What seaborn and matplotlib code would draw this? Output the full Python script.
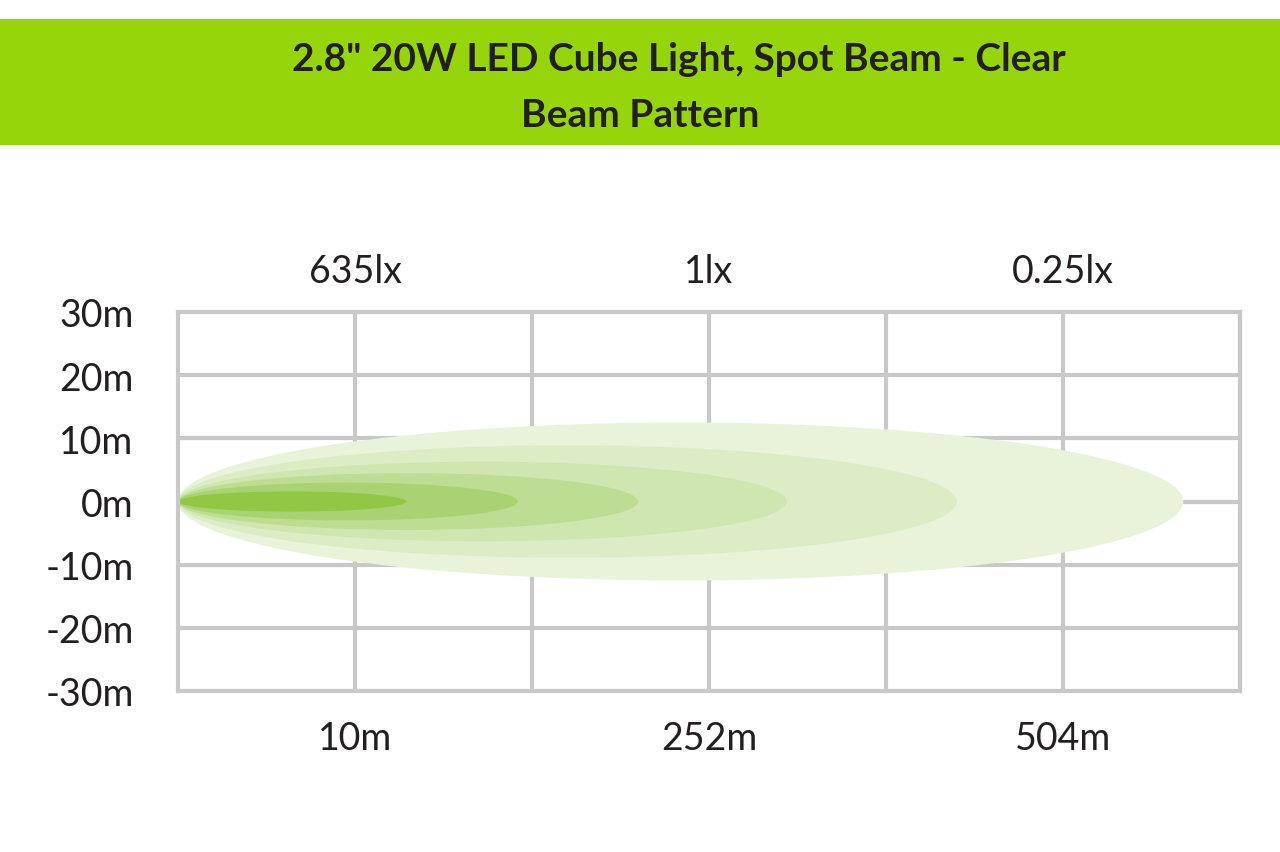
import matplotlib
matplotlib.use("Agg")
import matplotlib.pyplot as plt
from matplotlib.patches import Ellipse, Rectangle
import seaborn as sns

title_lines = ['2.8" 20W LED Cube Light, Spot Beam - Clear', "Beam Pattern"]
y_ticks = [-30, -20, -10, 0, 10, 20, 30]
y_labels = ["-30m", "-20m", "-10m", "0m", "10m", "20m", "30m"]
x_label_pos = [1, 3, 5]
bottom_labels = ["10m", "252m", "504m"]
top_labels = ["635lx", "1lx", "0.25lx"]
# beam contours: reach (grid units) and half-width (m)
beam_length = [5.68, 4.4, 3.44, 2.6, 1.92, 1.29]
beam_halfwidth = [12.5, 8.9, 6.3, 4.5, 3.0, 1.6]
beam_colors = ["#e8f3d9", "#dcedc6", "#cfe6b0", "#bddd93", "#a9d372", "#92c645"]

sns.set_theme(style="white", font="Lato")
fig = plt.figure(figsize=(12.8, 8.53), dpi=100)
W, H = 1280, 853
# title band
band = fig.add_axes([0, 1 - 146 / H, 1, 126 / H])
band.set_axis_off()
band.add_patch(Rectangle((0, 0), 1, 1, color="#96d50a", transform=band.transAxes))
band.text(0.53, 0.69, title_lines[0], ha="center", va="center", fontsize=28,
          fontweight="bold", color="#231f20", transform=band.transAxes)
band.text(0.5, 0.24, title_lines[1], ha="center", va="center", fontsize=28,
          fontweight="bold", color="#231f20", transform=band.transAxes)

ax = fig.add_axes([178 / W, 1 - 692 / H, (1240 - 178) / W, (692 - 313) / H])
ax.set_xlim(0, 6)
ax.set_ylim(-30, 30)
for L, hw, c in zip(beam_length, beam_halfwidth, beam_colors):
    ax.add_patch(Ellipse((L / 2, 0), L, 2 * hw, color=c, lw=0, zorder=2))
grid_c = "#c8c8c8"
for x in range(1, 6):
    ax.axvline(x, color=grid_c, lw=3, zorder=1)
for y in y_ticks[1:-1]:
    ax.axhline(y, color=grid_c, lw=3, zorder=1)
for s in ax.spines.values():
    s.set_color(grid_c)
    s.set_linewidth(3)
ax.set_xticks([])
ax.set_yticks(y_ticks)
ax.set_yticklabels(y_labels, fontsize=27, color="#231f20")
ax.tick_params(axis="y", length=0, pad=32)
for x, b, t in zip(x_label_pos, bottom_labels, top_labels):
    ax.text(x, -37.5, b, ha="center", va="center", fontsize=27, color="#231f20")
    ax.text(x, 36.5, t, ha="center", va="center", fontsize=27, color="#231f20")
fig.savefig("out.png", dpi=100, facecolor="white")
